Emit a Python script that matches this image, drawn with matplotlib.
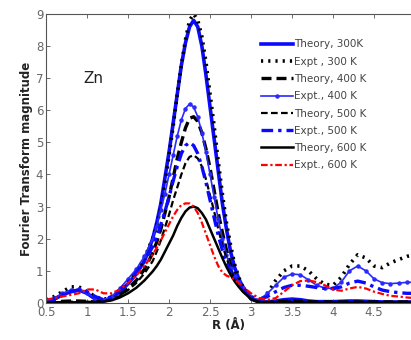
import matplotlib
matplotlib.use("Agg")
import matplotlib.pyplot as plt

R = [0.5, 0.6, 0.7, 0.8, 0.9, 1.0, 1.1, 1.2, 1.3, 1.4, 1.5, 1.6, 1.7, 1.8,
     1.85, 1.9, 1.95, 2.0, 2.05, 2.1, 2.15, 2.2, 2.25, 2.3, 2.35, 2.4, 2.45, 2.5,
     2.55, 2.6, 2.65, 2.7, 2.75, 2.8, 2.85,
     2.9, 3.0, 3.1, 3.2, 3.3, 3.4, 3.5, 3.6, 3.7, 3.8, 3.9, 4.0, 4.1, 4.2, 4.3,
     4.4, 4.5, 4.6, 4.7, 4.8, 4.9, 5.0]

theory_300 = [0.05, 0.12, 0.25, 0.35, 0.4, 0.3, 0.12, 0.05, 0.15, 0.35, 0.6, 0.9, 1.3, 2.0,
              2.5, 3.1, 3.9, 4.7, 5.6, 6.5, 7.4, 8.1, 8.6, 8.8, 8.6, 8.0, 7.1, 6.1,
              5.1, 4.1, 3.1, 2.3, 1.6, 1.1, 0.75,
              0.5, 0.15, 0.03, 0.03, 0.06, 0.1, 0.12, 0.1, 0.06, 0.04, 0.04, 0.04, 0.05, 0.06, 0.06,
              0.05, 0.04, 0.03, 0.03, 0.03, 0.03, 0.03]

expt_300 = [0.1, 0.2, 0.35, 0.5, 0.5, 0.35, 0.2, 0.1, 0.2, 0.4, 0.65, 0.95, 1.4, 2.0,
            2.4, 3.0, 3.7, 4.6, 5.5, 6.5, 7.4, 8.2, 8.8, 9.0, 8.8, 8.3, 7.5, 6.5,
            5.5, 4.4, 3.4, 2.5, 1.8, 1.2, 0.8,
            0.5, 0.15, 0.05, 0.3, 0.7, 1.0, 1.15, 1.15, 1.0, 0.75, 0.58, 0.55, 0.8, 1.2, 1.5,
            1.4, 1.15, 1.1, 1.25, 1.35, 1.45, 1.5]

theory_400 = [0.02, 0.03, 0.05, 0.06, 0.06, 0.05, 0.03, 0.05, 0.12, 0.25, 0.45, 0.7, 1.05, 1.55,
              1.9, 2.3, 2.8, 3.3, 3.9, 4.5, 5.0, 5.45, 5.75, 5.8, 5.65, 5.3, 4.8, 4.2,
              3.5, 2.8, 2.2, 1.65, 1.2, 0.85, 0.6,
              0.4, 0.12, 0.02, 0.02, 0.03, 0.05, 0.06, 0.05, 0.04, 0.03, 0.03, 0.03, 0.03, 0.03, 0.03,
              0.03, 0.03, 0.03, 0.03, 0.03, 0.03, 0.03]

expt_400 = [0.08, 0.15, 0.3, 0.4, 0.42, 0.3, 0.15, 0.1, 0.2, 0.45, 0.75, 1.05, 1.45, 2.0,
            2.4, 2.9, 3.4, 4.0, 4.6, 5.2, 5.7, 6.05, 6.2, 6.1, 5.8, 5.3, 4.7, 4.0,
            3.3, 2.6, 2.0, 1.5, 1.1, 0.85, 0.65,
            0.45, 0.15, 0.1, 0.3, 0.55, 0.8, 0.9, 0.88, 0.72, 0.55, 0.46, 0.45, 0.65, 1.0, 1.15,
            1.0, 0.75, 0.63, 0.6, 0.62, 0.64, 0.65]

theory_500 = [0.02, 0.02, 0.03, 0.04, 0.04, 0.04, 0.03, 0.05, 0.1, 0.22, 0.4, 0.62, 0.92, 1.3,
              1.6, 1.95, 2.35, 2.75, 3.2, 3.6, 4.0, 4.35, 4.55, 4.6, 4.5, 4.25, 3.85, 3.35,
              2.85, 2.3, 1.8, 1.4, 1.05, 0.75, 0.55,
              0.38, 0.12, 0.02, 0.02, 0.03, 0.04, 0.05, 0.04, 0.03, 0.03, 0.03, 0.03, 0.03, 0.03, 0.03,
              0.03, 0.03, 0.03, 0.03, 0.03, 0.03, 0.03]

expt_500 = [0.06, 0.12, 0.25, 0.35, 0.4, 0.35, 0.2, 0.1, 0.2, 0.4, 0.65, 0.95, 1.3, 1.75,
            2.05, 2.45, 2.85, 3.3, 3.8, 4.25, 4.65, 4.9, 5.0, 4.9, 4.65, 4.25, 3.75, 3.2,
            2.65, 2.1, 1.65, 1.25, 0.95, 0.75, 0.6,
            0.45, 0.2, 0.1, 0.2, 0.35, 0.48, 0.55, 0.55, 0.52, 0.48, 0.45, 0.45, 0.5, 0.62, 0.68,
            0.62, 0.5, 0.4, 0.35, 0.32, 0.3, 0.3]

theory_600 = [0.01, 0.01, 0.02, 0.02, 0.02, 0.02, 0.02, 0.04, 0.08, 0.17, 0.3, 0.47, 0.7, 0.98,
              1.15, 1.35, 1.6, 1.85, 2.1, 2.4, 2.65, 2.85, 2.97, 3.0, 2.95, 2.8, 2.6, 2.3,
              2.0, 1.7, 1.4, 1.12, 0.88, 0.67, 0.5,
              0.35, 0.12, 0.03, 0.02, 0.02, 0.02, 0.02, 0.02, 0.02, 0.02, 0.02, 0.02, 0.02, 0.02, 0.02,
              0.02, 0.02, 0.02, 0.02, 0.02, 0.02, 0.02]

expt_600 = [0.1, 0.15, 0.2, 0.25, 0.3, 0.42, 0.42, 0.3, 0.3, 0.42, 0.62, 0.85, 1.15, 1.5,
            1.72, 1.95, 2.2, 2.45, 2.7, 2.9, 3.05, 3.1, 3.1, 3.0, 2.8, 2.5, 2.15, 1.8,
            1.45, 1.15, 0.95, 0.85, 0.8, 0.72, 0.62,
            0.5, 0.3, 0.15, 0.1, 0.15, 0.35, 0.55, 0.68, 0.7, 0.65, 0.55, 0.42, 0.38, 0.45, 0.5,
            0.45, 0.35, 0.28, 0.22, 0.2, 0.17, 0.15]

xticks = [0.5, 1, 1.5, 2, 2.5, 3, 3.5, 4, 4.5]
xticklabels = ["0.5", "1", "1.5", "2", "2.5", "3", "3.5", "4", "4.5"]
yticks = [0, 1, 2, 3, 4, 5, 6, 7, 8, 9]

fig = plt.figure(figsize=(4.11, 3.40), dpi=100)
ax = fig.add_axes([0.112, 0.109, 0.888, 0.850])

ax.plot(R, theory_300, color="#0a0aff", lw=2.6, ls="-", label="Theory, 300K")
ax.plot(R, expt_300, color="black", lw=2.6, ls=(0, (0.6, 1.4)), label="Expt , 300 K")
ax.plot(R, theory_400, color="black", lw=2.4, ls=(0, (3, 1.5)), label="Theory, 400 K")
ax.plot(R, expt_400, color="#2a2aff", lw=1.2, ls="-", marker="o", markersize=2.2,
        markevery=1, label="Expt., 400 K")
ax.plot(R, theory_500, color="black", lw=1.6, ls=(0, (3, 1.5)), label="Theory, 500 K")
ax.plot(R, expt_500, color="#0a0aff", lw=2.4, ls=(0, (3.5, 1.5, 1, 1.5)), label="Expt., 500 K")
ax.plot(R, theory_600, color="black", lw=1.8, ls="-", label="Theory, 600 K")
ax.plot(R, expt_600, color="red", lw=1.6, ls=(0, (3, 1.2, 1, 1.2)), label="Expt., 600 K")

ax.set_xlim(0.5, 4.95)
ax.set_ylim(0, 9)
ax.set_xticks(xticks)
ax.set_xticklabels(xticklabels)
ax.set_yticks(yticks)
ax.tick_params(direction="in", top=True, right=False, labelsize=8.5,
               labelcolor="#666666", length=3, width=0.6, color="#555555", pad=2)
for side in ["top", "bottom", "left"]:
    ax.spines[side].set_color("#555555")
    ax.spines[side].set_linewidth(0.8)
ax.spines["right"].set_visible(False)

ax.set_xlabel("R (Å)", fontsize=8.5, fontweight="bold", color="#222222", labelpad=0)
ax.set_ylabel("Fourier Transform magnitude", fontsize=8.5, fontweight="bold",
              color="#222222", labelpad=2)
ax.text(0.95, 6.85, "Zn", fontsize=11, color="#222222")

leg = ax.legend(loc="upper left", bbox_to_anchor=(0.59, 0.912), frameon=False,
                fontsize=7.5, handlelength=3.0, handletextpad=0.15, labelspacing=0.70,
                borderaxespad=0, borderpad=0)
for t in leg.get_texts():
    t.set_color("#444444")

fig.savefig("out.png", dpi=100)
